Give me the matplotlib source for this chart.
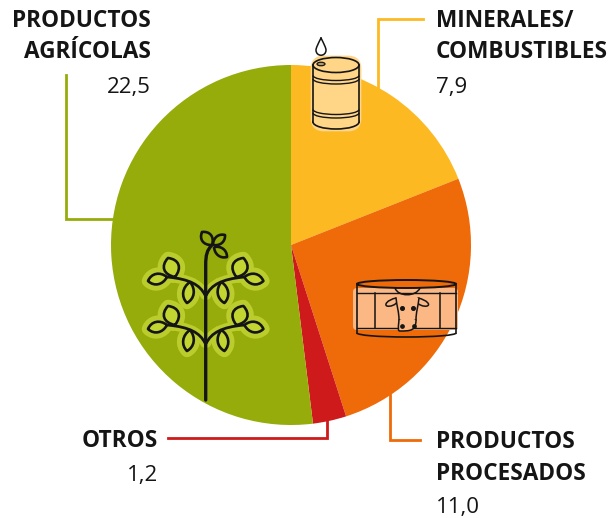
import matplotlib
matplotlib.use('Agg')
import matplotlib.pyplot as plt
from matplotlib.patches import Ellipse, FancyBboxPatch, PathPatch, Polygon, Arc
from matplotlib.path import Path

# clockwise from the top. printed figures and the drawn slice shares (%)
categories = ['Minerales/combustibles', 'Productos procesados', 'Otros', 'Productos agrícolas']
value_labels = ['7,9', '11,0', '1,2', '22,5']
slice_shares = [19.0, 26.05, 3.0, 51.95]
slice_colors = ['#FDB922', '#EF6A08', '#CE1A1A', '#96AC0B']

INK = '#151515'
FONT = 'Open Sans'

fig = plt.figure(figsize=(6.14, 5.18), dpi=100)
ax = fig.add_axes([0, 0, 1, 1])

# y axis is flipped so everything below is in picture pixels
ax.pie(slice_shares, colors=slice_colors, center=(291, 245), radius=180,
       startangle=-90, counterclock=True, wedgeprops={'linewidth': 0})
ax.set_xlim(0, 614)
ax.set_ylim(518, 0)
ax.set_aspect('equal')
ax.axis('off')


def curve(pts, color=INK, lw=1.5, z=5, fill=None):
    # pts: start point then bezier triples
    codes = [Path.MOVETO] + [Path.CURVE4] * (len(pts) - 1)
    ax.add_patch(PathPatch(Path(pts, codes), fc=fill or 'none', ec=color, lw=lw, zorder=z,
                           capstyle='round', joinstyle='round'))


def leaf(x0, y0, x1, y1, w):
    # pointed lens from base to tip, w = bulge sideways
    dx, dy = x1 - x0, y1 - y0
    nx, ny = -dy, dx
    n = (nx ** 2 + ny ** 2) ** 0.5
    nx, ny = nx / n * w, ny / n * w
    pts = [(x0, y0),
           (x0 + .3 * dx + nx, y0 + .3 * dy + ny), (x0 + .75 * dx + nx, y0 + .75 * dy + ny), (x1, y1),
           (x0 + .75 * dx - nx, y0 + .75 * dy - ny), (x0 + .3 * dx - nx, y0 + .3 * dy - ny), (x0, y0)]
    return pts


# leader lines
ax.plot([423, 377.5, 377.5], [19, 19, 87], color=slice_colors[0], lw=2, zorder=1, solid_joinstyle='miter')
ax.plot([66, 66, 114], [75, 219, 219], color=slice_colors[3], lw=2, zorder=1, solid_joinstyle='miter')
ax.plot([390, 390, 420], [395, 440, 440], color=slice_colors[1], lw=2, zorder=1, solid_joinstyle='miter')
ax.plot([168, 327, 327], [438, 438, 418], color=slice_colors[2], lw=2, zorder=3, solid_joinstyle='miter')

# barrel
BARREL = '#FFD588'
ax.add_patch(FancyBboxPatch((315, 60), 42, 67, boxstyle='round,pad=3,rounding_size=12',
                            fc=BARREL, ec=BARREL, lw=2, zorder=4))
ax.add_patch(Ellipse((336, 122), 46, 14, fc=BARREL, ec=INK, lw=1.2, zorder=4))
ax.add_patch(Polygon([(313, 65), (359, 65), (359, 122), (313, 122)], closed=True, fc=BARREL, ec='none', zorder=4.5))
ax.add_patch(Ellipse((336, 65), 46, 15, fc=BARREL, ec=INK, lw=1.2, zorder=5))
ax.plot([313, 313], [65, 122], color=INK, lw=1.2, zorder=5)
ax.plot([359, 359], [65, 122], color=INK, lw=1.2, zorder=5)
for yb in [75.5, 79, 109.5, 113]:
    ax.add_patch(Arc((336, yb), 46, 10, theta1=0, theta2=180, color=INK, lw=1, zorder=5))
ax.add_patch(Ellipse((321, 64), 8, 3.5, fc='#B89A5A', ec=INK, lw=.9, zorder=6))
curve([(321, 38), (318, 44), (316, 48), (316, 50), (316, 57), (326, 57), (326, 50), (326, 48), (324, 44), (321, 38)],
      lw=1.1, fill='white')

# plant: halos first, then dark outlines
PLANT_LEAF = '#C3D530'
HALO = '#BACD2C'
sx = 205.7
stem = [(sx, 400), (sx, 350), (sx, 300), (sx, 265), (sx, 255), (207, 250), (212, 245)]
curve(stem, lw=2.4, z=7)
top_leaves = [(212, 245, 202, 232, 7), (213, 245, 225, 235, 5.5), (214, 247, 227, 257, 5.5)]
side_leaves = []
for dy in [0, 48]:
    for side in [1, -1]:
        mx = lambda x: x if side == 1 else 2 * sx - x
        for l in [(167, 277, 148, 281, 7), (175, 277, 168, 258, 10), (190, 282, 187, 303, 7)]:
            side_leaves.append((mx(l[0]), l[1] + dy, mx(l[2]), l[3] + dy, l[4]))
        branch = [(mx(205), 295 + dy), (mx(200), 285 + dy), (mx(190), 279 + dy), (mx(167), 277 + dy)]
        curve(branch, lw=7, z=6, color=HALO)
        curve(branch, lw=2, z=7)
leaf_codes = [Path.MOVETO] + [Path.CURVE4] * 6
for l in side_leaves:
    ax.add_patch(PathPatch(Path(leaf(*l), leaf_codes), fc=HALO, ec=HALO, lw=9, zorder=6, joinstyle='round'))
for l in side_leaves:
    ax.add_patch(PathPatch(Path(leaf(*l), leaf_codes), fc=PLANT_LEAF, ec=INK, lw=1.9, zorder=8, joinstyle='round'))
for l in top_leaves:
    ax.add_patch(PathPatch(Path(leaf(*l), leaf_codes), fc='none', ec=INK, lw=1.9, zorder=8, joinstyle='round'))

# tin with the cow
TIN = '#FBB784'
ax.add_patch(FancyBboxPatch((356, 291), 99, 36, boxstyle='round,pad=3,rounding_size=4', fc=TIN, ec='none', zorder=4))
ax.plot([357, 357], [284, 333], color=INK, lw=1.2, zorder=5)
ax.plot([456, 456], [284, 333], color=INK, lw=1.2, zorder=5)
ax.add_patch(Ellipse((406.5, 284), 99, 8, fc='none', ec=INK, lw=1.4, zorder=5))
ax.add_patch(Arc((406.5, 333), 99, 8, theta1=0, theta2=180, color=INK, lw=1.2, zorder=5))
ax.plot([357, 456], [293, 293], color=INK, lw=1, zorder=5)
ax.plot([357, 456], [328, 328], color=INK, lw=1, zorder=5)
ax.plot([375, 375], [293, 328], color=INK, lw=1.1, zorder=5)
ax.plot([440, 440], [293, 328], color=INK, lw=1.1, zorder=5)
# cow head
curve([(395, 288), (398, 297), (416, 297), (420, 288)], lw=1.1, z=6)
curve([(396, 298), (387, 300), (384, 305), (387, 306), (390, 307), (396, 305), (398, 301)], lw=1.1, z=6, fill=TIN)
curve([(418, 298), (427, 300), (431, 305), (427, 306), (424, 307), (418, 305), (416, 301)], lw=1.1, z=6, fill=TIN)
curve([(396, 298), (397, 307), (399, 312), (399, 320), (404, 322), (411, 322), (416, 320),
       (416, 312), (418, 307), (419, 298)], lw=1.1, z=6, fill=TIN)
curve([(399, 320), (398, 330), (398, 331), (400, 331), (410, 331), (416, 331), (416, 320)], lw=1.1, z=6, fill=TIN)
ax.plot([402, 413], [308, 308], ls='none', marker='o', ms=2.6, color=INK, zorder=7)
ax.plot([402, 414], [326, 326], ls='none', marker='o', ms=2.4, color=INK, zorder=7)


# labels
def label(x, y, s, ha='left', bold=True):
    ax.text(x, y, s, ha=ha, va='center', fontsize=16.3 if bold else 16, family=FONT,
            fontweight='bold' if bold else 'normal', color=INK, zorder=10)


label(151, 21, 'PRODUCTOS', ha='right')
label(151, 52, 'AGRÍCOLAS', ha='right')
label(151, 87, value_labels[3], ha='right', bold=False)
label(436, 21, 'MINERALES/')
label(436, 52, 'COMBUSTIBLES')
label(436, 87, value_labels[0], bold=False)
label(158, 441, 'OTROS', ha='right')
label(158, 475, value_labels[2], ha='right', bold=False)
label(436, 442, 'PRODUCTOS')
label(436, 474, 'PROCESADOS')
label(436, 507, value_labels[1], bold=False)

fig.savefig('out.png', dpi=100)
